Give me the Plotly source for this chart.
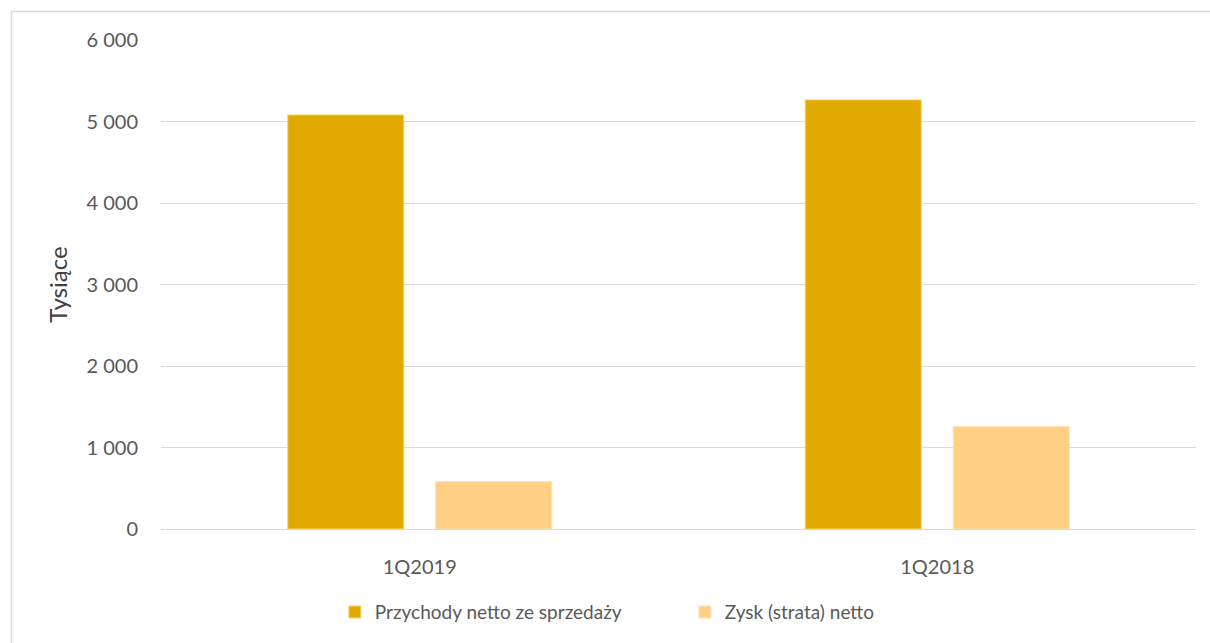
import plotly.graph_objects as go

# Quarterly figures, thousands
categories = ["1Q2019", "1Q2018"]
revenue = [5085, 5269]        # Przychody netto ze sprzedaży
net_profit = [581, 1257]      # Zysk (strata) netto

tick_values = [0, 1000, 2000, 3000, 4000, 5000, 6000]
tick_labels = ["0", "1 000", "2 000", "3 000", "4 000", "5 000", "6 000"]

FONT = "Lato, Open Sans, sans-serif"
TEXT_COLOR = "#595959"

fig = go.Figure()
fig.add_trace(go.Bar(
    name="Przychody netto ze sprzedaży",
    x=categories, y=revenue,
    marker=dict(color="#E2AA00", line=dict(color="#F6D56A", width=1)),
))
fig.add_trace(go.Bar(
    name="Zysk (strata) netto",
    x=categories, y=net_profit,
    marker=dict(color="#FECF84", line=dict(color="#FFE2B0", width=1)),
))

fig.update_layout(
    width=1210, height=643,
    margin=dict(l=161, r=14, t=40, b=114),
    paper_bgcolor="white", plot_bgcolor="white",
    barmode="group", bargap=0.428, bargroupgap=0.216,
    font=dict(family=FONT, size=20, color=TEXT_COLOR),
    showlegend=True,
    legend=dict(
        orientation="h", xref="container", x=0.566, xanchor="center",
        yref="container", y=0.048, yanchor="middle",
        font=dict(size=19, color=TEXT_COLOR), itemwidth=30,
        entrywidth=305, traceorder="normal",
    ),
    xaxis=dict(
        showgrid=False, zeroline=False, showline=False,
        ticks="outside", ticklen=20, tickcolor="rgba(0,0,0,0)",
        tickfont=dict(size=20, color=TEXT_COLOR),
    ),
    yaxis=dict(
        range=[0, 6005], tickvals=tick_values, ticktext=tick_labels,
        showgrid=True, gridcolor="#D9D9D9", gridwidth=1.3,
        zeroline=True, zerolinecolor="#D9D9D9", zerolinewidth=1.3,
        showline=False, ticks="", ticklabelstandoff=22,
        tickfont=dict(size=20, color=TEXT_COLOR),
        title=dict(text="Tysiące", font=dict(size=24, color="#404040"), standoff=12),
    ),
    shapes=[dict(
        type="rect", xref="paper", yref="paper",
        x0=(11.5 - 161) / 1035, x1=(1230 - 161) / 1035,
        y0=(529 - 660) / 489, y1=(529 - 11.5) / 489,
        line=dict(color="#D9D9D9", width=1.5), fillcolor="rgba(0,0,0,0)",
        layer="below",
    )],
)

fig.write_html("out.html")
